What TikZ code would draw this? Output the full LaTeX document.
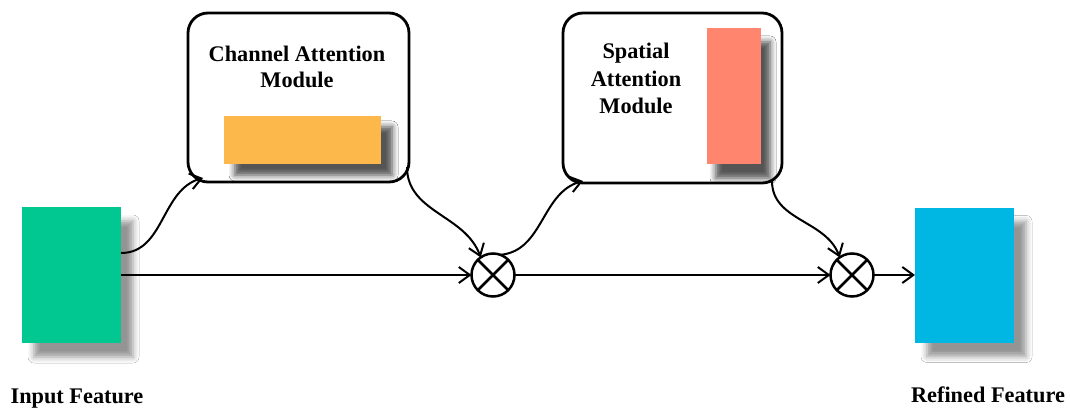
\documentclass[tikz,border=0pt]{standalone}
\usepackage{fontspec}
\setmainfont{Liberation Serif}
\usetikzlibrary{arrows.meta,shadows.blur,calc}

\definecolor{inputgreen}{RGB}{0,200,144}
\definecolor{refinedblue}{RGB}{0,183,228}
\definecolor{channelorange}{RGB}{253,184,75}
\definecolor{spatialred}{RGB}{255,133,110}

\tikzset{
  fmap/.style={inner sep=0pt, outer sep=0pt,
    blur shadow={shadow xshift=12pt, shadow yshift=-14pt,
                 shadow blur radius=6pt, shadow opacity=42}},
  module/.style={draw, line width=2.8pt, rounded corners=20pt,
    inner sep=0pt, outer sep=0pt},
  mult/.style={circle, draw, line width=2.5pt, minimum size=43pt,
    inner sep=0pt, outer sep=0pt},
  link/.style={line width=2pt, -{Straight Barb[length=11pt,width=16pt]}},
  caption/.style={font=\bfseries\fontsize{22.3}{26.5}\selectfont,
    align=center, inner sep=0pt}
}

\begin{document}
\begin{tikzpicture}[x=1pt,y=1pt]
  \fill[white] (0,0) rectangle (1070,408);
  \useasboundingbox (0,0) rectangle (1070,408);

  % attention modules
  \node[module, minimum width=221pt, minimum height=169pt] (cam) at (298.5,310.5) {};
  \node[module, minimum width=219pt, minimum height=170pt] (sam) at (672.5,310) {};

  % feature maps
  \node[fmap, fill=inputgreen, minimum width=99pt, minimum height=136pt] (fin) at (71.5,133) {};
  \node[fmap, fill=refinedblue, minimum width=99pt, minimum height=135pt] (fout) at (964.5,133) {};
  \node[fmap, fill=channelorange, minimum width=157pt, minimum height=48pt,
        blur shadow={shadow xshift=11pt, shadow yshift=-11pt}] (cw) at (302.5,268) {};
  \node[fmap, fill=spatialred, minimum width=54pt, minimum height=136pt,
        blur shadow={shadow xshift=9pt, shadow yshift=-14pt}] (sw) at (734,312) {};

  % module titles (anchored on the baseline of the last line)
  \node[caption, anchor=base] (camtext) at (297,320) {Channel Attention\\Module};
  \node[caption, anchor=base, font=\bfseries\fontsize{22.3}{27}\selectfont]
    (samtext) at (636,295) {Spatial\\Attention\\Module};

  % feature captions
  \node[caption, anchor=base] (inlabel) at (77,5) {Input Feature};
  \node[caption, anchor=base] (outlabel) at (988,6) {Refined Feature};

  % element-wise multiplications
  \node[mult] (m1) at (493,133) {};
  \node[mult] (m2) at (852,133) {};
  \foreach \m in {m1,m2}{
    \draw[line width=2.5pt] (\m.45) -- (\m.225);
    \draw[line width=2.5pt] (\m.135) -- (\m.-45);
  }

  % main path
  \draw[link] (fin.east) -- (m1.west);
  \draw[link] (m1.east) -- (m2.west);
  \draw[link] (m2.east) -- (fout.west);

  % attention branches
  \draw[link] ($(fin.east)+(0,22)$) to[out=0, in=195] ($(cam.south west)+(15,4)$);
  \draw[link] ($(cam.south east)+(-2,15)$) to[out=-90, in=110] (m1.125);
  \draw[link] (m1.70) to[out=5, in=195] ($(sam.south west)+(20,2)$);
  \draw[link] ($(sam.south east)+(-10,2)$) to[out=-90, in=110] (m2.125);
\end{tikzpicture}
\end{document}
